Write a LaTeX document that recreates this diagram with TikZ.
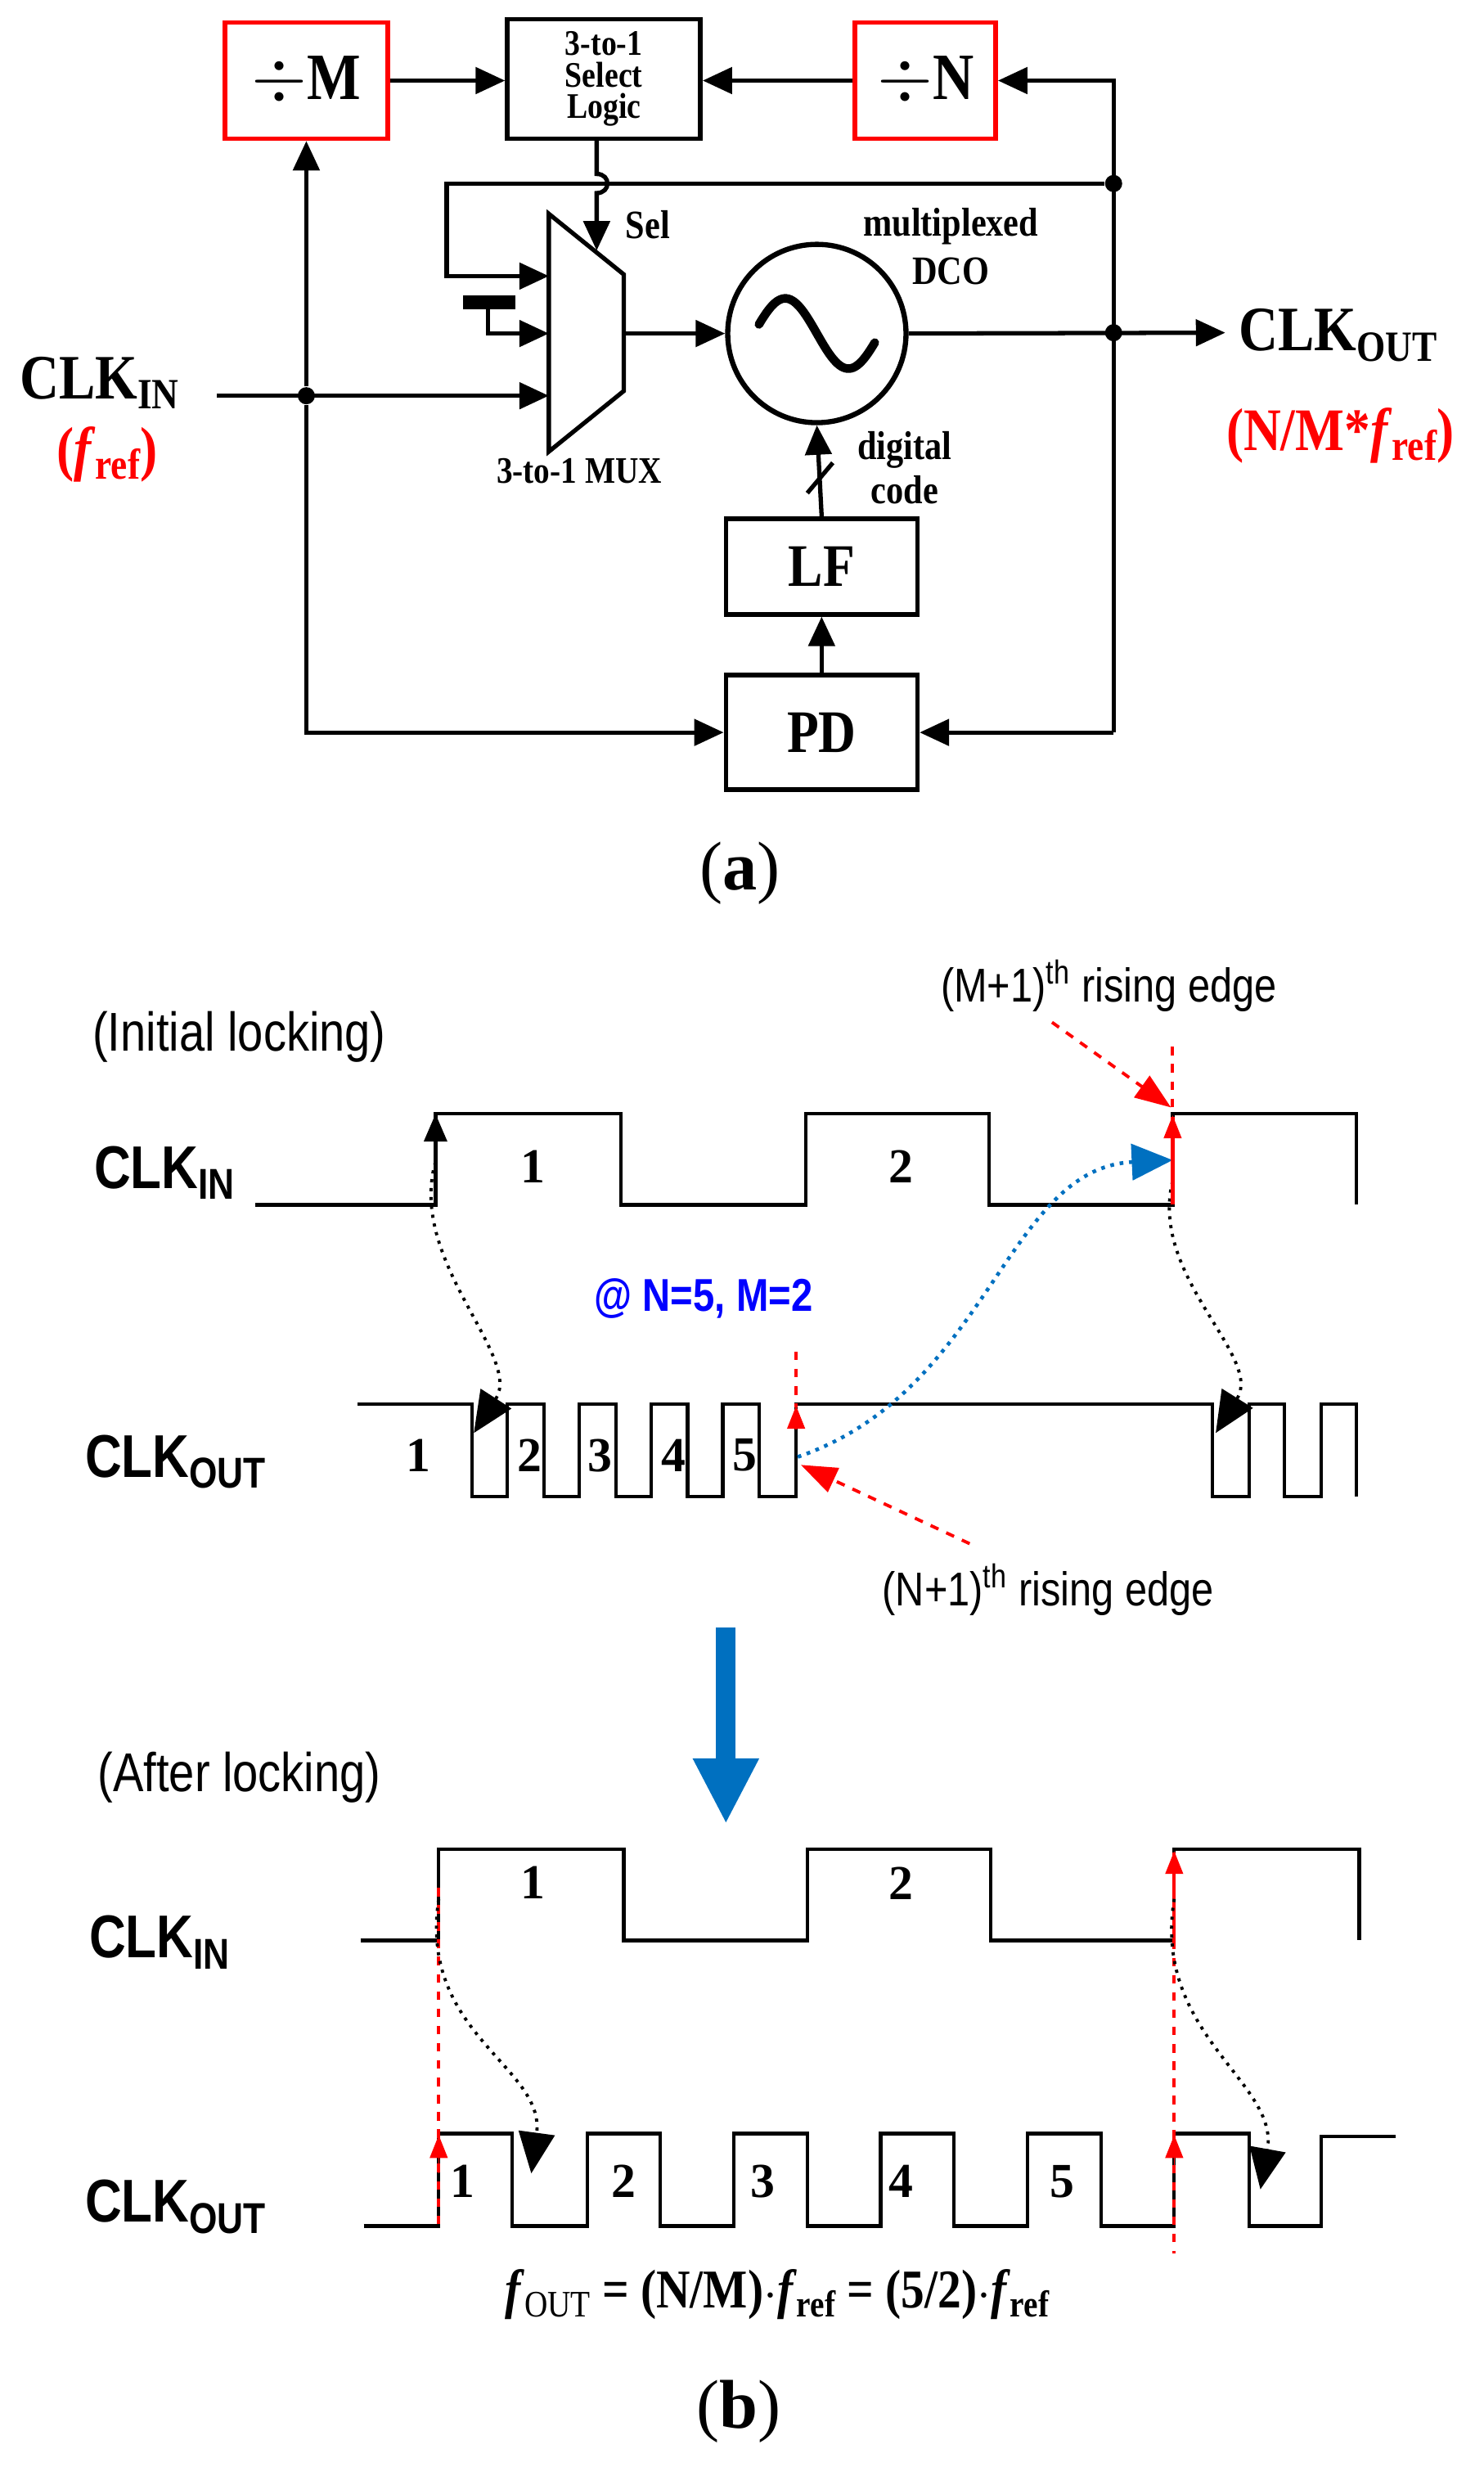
\documentclass[tikz,border=0pt]{standalone}
\usepackage{fontspec}
\setmainfont{Liberation Serif}
\newfontfamily\condserif{Liberation Serif}[FakeStretch=0.86]
\newfontfamily\condsans{Liberation Sans}[FakeStretch=0.84]
\usetikzlibrary{arrows.meta,positioning}

\newcommand\fsz[1]{\fontsize{#1pt}{#1pt}\selectfont}
\newcommand\lowsub[2]{\raisebox{-0.35ex}{\fsz{#1}#2}}
\definecolor{arrblue}{RGB}{0,112,192}

\tikzset{
  wire/.style={line width=1.5pt},
  arr/.style={wire,-{Triangle[length=3.6mm,width=3.2mm]}},
  blk/.style={draw,line width=1.6pt,inner sep=0pt},
  dot/.style={circle,fill,inner sep=0pt,minimum size=2.1mm},
  wave/.style={line width=1.2pt,line join=miter},
  redtip/.style={red,-{Triangle[length=2.8mm,width=2.2mm]}},
  pointer/.style={dashed,line width=1.1pt,-{Triangle[length=4.4mm,width=3.2mm]}},
  curv/.style={dotted,line width=1.1pt,-{Triangle[length=5mm,width=4.4mm]}},
  txt/.style={inner sep=0pt}
}

\begin{document}
\begin{tikzpicture}[x=0.19505mm,y=-0.19505mm]
\useasboundingbox (0,0) rectangle (930,1546);

%%%%% (a) block diagram
\begin{scope}[font=\condserif\bfseries]
% blocks
\node[blk,red,minimum width=19.9mm,minimum height=14.2mm,font=\condserif\bfseries\fsz{23}] (divM) at (192,50.5) {\textcolor{black}{\(\div\)M}};
\node[blk,minimum width=23.6mm,minimum height=14.6mm,align=center,font=\condserif\bfseries\fontsize{12.5pt}{11pt}\selectfont] (logic) at (378.5,49.5) {3-to-1\\Select\\Logic};
\node[blk,red,minimum width=17.2mm,minimum height=14.2mm,font=\condserif\bfseries\fsz{23}] (divN) at (580,50.5) {\textcolor{black}{\(\div\)N}};
\node[blk,minimum width=23.4mm,minimum height=11.7mm,font=\condserif\bfseries\fsz{21}] (lf) at (515,355) {LF};
\node[blk,minimum width=23.4mm,minimum height=14mm,font=\condserif\bfseries\fsz{21}] (pd) at (515,459) {PD};
\node[draw,circle,line width=1.8pt,minimum size=21.8mm] (dco) at (512,209) {};
\draw[line width=3pt,line cap=round] plot[domain=-165:165,samples=60] ({512+\x*0.22},{209+22*sin(\x)});

% mux
\draw[wire,line join=miter] (344,134) -- (391,172) -- (391,245) -- (344,283) -- cycle;
\coordinate (m1) at (344,173);
\coordinate (m2) at (344,209);
\coordinate (m3) at (344,248);
\coordinate (muxo) at (391,209);

% junctions
\coordinate (rtop) at (698,50.5);
\node[dot] (rfb) at (698,115) {};
\node[dot] (rout) at (698,208.5) {};
\coordinate (rbot) at (698,459);
\node[dot] (jin) at (192,248) {};
\coordinate (lbot) at (192,459);
\coordinate (cin) at (136,248);
\coordinate (cout) at (768,208.5);

% connectors
\draw[arr] (divM.east) -- (divM.east -| logic.west);
\draw[arr] (divN.west) -- (divN.west -| logic.east);
\draw[arr] (rbot) -- (rtop) -- (divN.east);
\draw[arr] (rfb) -- (280,115) -- (280,173) -- (m1);
\fill (290,185) rectangle (323,194);
\draw[arr] (306,194) -- (306,209) -- (m2);
\draw[arr] (cin) -- (m3);
\draw[arr] (jin) -- (divM.south);
\draw[arr] (jin) -- (lbot) -- (pd.west);
\draw[arr] (rbot) -- (pd.east);
\draw[arr] (muxo) -- (dco.west);
\draw[arr] (dco.east) -- (cout);
\draw[arr] (pd.north) -- (lf.south);
\draw[arr] (lf.north) -- (dco.south);
\draw[wire] (506,309) -- (522,290);
% sel with hop
\draw[arr] (374,87) -- (374,109) .. controls (383,109) and (383,121) .. (374,121) -- (374,157);

% labels
\node[txt,font=\condserif\bfseries\fsz{14}] (sel) at (406,141) {Sel};
\node[txt,font=\condserif\bfseries\fsz{14}] (mdco) at (596,142) {multiplexed};
\node[txt,font=\condserif\bfseries\fsz{14}] at (596,170) {DCO};
\node[txt,font=\condserif\bfseries\fsz{13}] (muxl) at (363,295) {3-to-1 MUX};
\node[txt,font=\condserif\bfseries\fsz{14}] (dig) at (567,282) {digital};
\node[txt,font=\condserif\bfseries\fsz{14}] at (567,307) {code};
\node[txt,anchor=west,font=\condserif\bfseries\fsz{22}] (lin) at (12,240) {CLK\lowsub{15}{IN}};
\node[txt,red,font=\condserif\bfseries\fsz{21}] (fin) at (67,285) {(\textit{f}\lowsub{15}{ref})};
\node[txt,anchor=west,font=\condserif\bfseries\fsz{22}] (lout) at (776,210) {CLK\lowsub{15}{OUT}};
\node[txt,red,font=\condserif\bfseries\fsz{21}] (fout) at (840,273) {(N/M*\textit{f}\lowsub{15}{ref})};
\end{scope}
\node[txt,font=\fsz{24}] (capa) at (464,547) {(\textbf{a})};

%%%%% (b) initial locking
\node[txt,font=\condsans\fsz{19}] (init) at (150,650) {(Initial locking)};
\node[txt,font=\condsans\fsz{16.5}] (medge) at (695,618) {(M+1)\textsuperscript{th} rising edge};
\node[txt,font=\condsans\bfseries\fsz{21}] (ci1) at (103,735) {CLK\lowsub{15}{IN}};
\node[txt,font=\condsans\bfseries\fsz{21}] (co1) at (110,916) {CLK\lowsub{15}{OUT}};
\node[txt,blue,font=\condsans\bfseries\fsz{16}] (nm) at (441,814) {@ N=5, M=2};
\node[txt,font=\condsans\fsz{16.5}] (nedge) at (657,996) {(N+1)\textsuperscript{th} rising edge};

\draw[wave] (160,755) -- (273,755) -- (273,698) -- (389,698) -- (389,755) -- (505,755) -- (505,698)
  -- (620,698) -- (620,755) -- (735,755) -- (735,698) -- (850,698) -- (850,755);
\draw[wave] (224,880) -- (296,880) -- (296,938) -- (318,938) -- (318,880) -- (341,880) -- (341,938)
  -- (363,938) -- (363,880) -- (386,880) -- (386,938) -- (408,938) -- (408,880) -- (431,880)
  -- (431,938) -- (453,938) -- (453,880) -- (476,880) -- (476,938) -- (499,938) -- (499,880)
  -- (760,880) -- (760,938) -- (783,938) -- (783,880) -- (805,880) -- (805,938) -- (828,938)
  -- (828,880) -- (850,880) -- (850,938);
\foreach \xx/\nn in {334/1,565/2}
  \node[txt,font=\bfseries\fsz{17}] at (\xx,731) {\nn};
\foreach \xx/\nn in {262/1,332/2,376/3,422/4,467/5}
  \node[txt,font=\bfseries\fsz{17}] at (\xx,912) {\nn};

\coordinate (ie1) at (273,728);
\coordinate (ie1t) at (273,698);
\coordinate (oe1) at (297,898);
\coordinate (ie3) at (735,740);
\coordinate (oe6) at (762,898);
\coordinate (oe5) at (500,913);
\coordinate (ie3m) at (735,727);
\draw[line width=1.2pt,-{Triangle[length=3.4mm,width=2.8mm]}] (ie1) -- (ie1t);
\draw[curv] (ie1) .. controls (255,790) and (328,850) .. (oe1);
\draw[curv] (ie3) .. controls (720,800) and (792,850) .. (oe6);
\draw[arrblue,dotted,line width=1.3pt,-{Triangle[length=5mm,width=4.4mm]}] (oe5) .. controls (620,872) and (630,732) .. (ie3m);
% red markers
\draw[red,line width=1.2pt] (735,755) -- (735,700);
\draw[redtip] (735,715) -- (735,699);
\draw[red,dashed,line width=1.1pt] (735,656) -- (735,698);
\draw[red,dashed,line width=1.1pt] (499,847) -- (499,882);
\draw[redtip] (499,896) -- (499,881);
\draw[red,pointer] (medge.south west) ++(70,6) -- (734,694);
\draw[red,pointer] (nedge.north west) ++(55,-12) -- (502,918);

% big arrow
\coordinate (ba0) at (455,1020);
\coordinate (ba1) at (455,1143);
\draw[arrblue,line width=2.4mm,-{Triangle[length=8mm,width=7.5mm]}] (ba0) -- (ba1);

%%%%% (b) after locking
\node[txt,font=\condsans\fsz{19}] (after) at (150,1114) {(After locking)};
\node[txt,font=\condsans\bfseries\fsz{21}] (ci2) at (100,1217) {CLK\lowsub{15}{IN}};
\node[txt,font=\condsans\bfseries\fsz{21}] (co2) at (110,1383) {CLK\lowsub{15}{OUT}};

\draw[wave] (226,1216) -- (275,1216) -- (275,1159) -- (391,1159) -- (391,1216) -- (506,1216) -- (506,1159)
  -- (621,1159) -- (621,1216) -- (736,1216) -- (736,1159) -- (852,1159) -- (852,1216);
\draw[wave] (228,1395) -- (275,1395) -- (275,1337) -- (321,1337) -- (321,1395) -- (368,1395) -- (368,1337)
  -- (414,1337) -- (414,1395) -- (460,1395) -- (460,1337) -- (506,1337) -- (506,1395) -- (552,1395)
  -- (552,1337) -- (598,1337) -- (598,1395) -- (644,1395) -- (644,1337) -- (690,1337) -- (690,1395)
  -- (736,1395) -- (736,1337) -- (783,1337) -- (783,1395) -- (828,1395) -- (828,1339) -- (875,1339);
\foreach \xx/\nn in {334/1,565/2}
  \node[txt,font=\bfseries\fsz{17}] at (\xx,1180) {\nn};
\foreach \xx/\nn in {290/1,391/2,478/3,565/4,666/5}
  \node[txt,font=\bfseries\fsz{17}] at (\xx,1367) {\nn};

\coordinate (ae1) at (275,1190);
\coordinate (ao1) at (333,1362);
\coordinate (ae3) at (736,1190);
\coordinate (ao6) at (790,1372);
\draw[red,dashed,line width=1.1pt] (275,1183) -- (275,1395);
\draw[redtip] (275,1362) -- (275,1338);
\draw[red,line width=1.2pt] (736,1216) -- (736,1161);
\draw[redtip] (736,1176) -- (736,1160);
\draw[red,dashed,line width=1.1pt] (736,1216) -- (736,1412);
\draw[redtip] (736,1362) -- (736,1338);
\draw[curv] (ae1) .. controls (262,1275) and (342,1295) .. (ao1);
\draw[curv] (ae3) .. controls (722,1275) and (802,1305) .. (ao6);

\node[txt,font=\condserif\bfseries\fsz{19}] (form) at (487,1438)
  {\textit{f}\lowsub{13}{\mdseries OUT} = (N/M)$\cdot$\textit{f}\lowsub{13}{ref} = (5/2)$\cdot$\textit{f}\lowsub{13}{ref}};
\node[txt,font=\fsz{24}] (capb) at (463,1511) {(\textbf{b})};
\end{tikzpicture}
\end{document}
